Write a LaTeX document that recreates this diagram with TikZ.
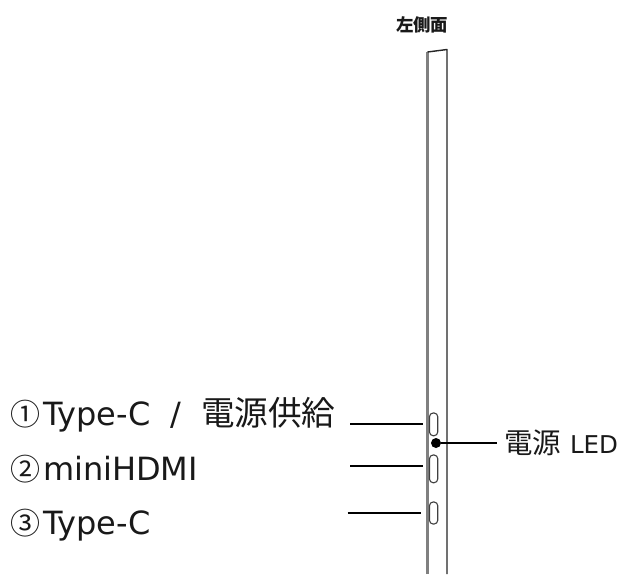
\documentclass[tikz,border=0pt]{standalone}
\usepackage{fontspec}
\setmainfont{DejaVu Sans}
\newfontfamily\cjk{Noto Sans CJK JP}
\newcommand{\lab}{\fontsize{32}{34}\selectfont}
\newcommand{\jp}[1]{{\cjk\fontsize{33.6}{34}\selectfont #1}}
\newcommand{\num}[1]{{\cjk\fontsize{30}{34}\selectfont #1}\hspace{3pt}}
\tikzset{
  labeltext/.style={anchor=base west,inner sep=0pt,outer sep=0pt,text=black!90},
  leader/.style={draw=black,line width=1.7pt},
  slot/.style={draw=black!75,line width=1.1pt,rounded corners=3.6pt,fill=white},
  edgegray/.style={draw=black!50,line width=2.6pt},
  edgeblack/.style={draw=black!85,line width=1.4pt}
}
\begin{document}
\begin{tikzpicture}[x=1pt,y=-1pt]
\useasboundingbox (0,0) rectangle (623,574);
\fill[white] (0,0) rectangle (623,574);
% title
\node[labeltext,font=\cjk\bfseries\fontsize{17.4}{18}\selectfont] (title) at (396,31) {左側面};
% body
\coordinate (tl) at (427.5,52);
\coordinate (tr) at (447,49.5);
\coordinate (bl) at (427.5,574);
\coordinate (br) at (447,574);
\draw[edgegray] (bl) -- (tl);
\draw[edgeblack,line join=round] (tl) -- (tr) -- (br);
% slots
\draw[slot] (429.5,413) rectangle (437.7,435.7);
\draw[slot] (429.5,455) rectangle (437.7,482.7);
\draw[slot] (429.5,502) rectangle (437.7,524);
% labels
\node[labeltext,font=\lab] (l1) at (10,425) {\num{①}Type-C\hspace{20pt}/\hspace{20pt}\jp{電源供給}};
\node[labeltext,font=\lab] (l2) at (10,480) {\num{②}miniHDMI};
\node[labeltext,font=\lab] (l3) at (10,534) {\num{③}Type-C};
\node[labeltext] (led) at (504,453) {{\cjk\fontsize{28.5}{30}\selectfont 電源}\hspace{9pt}{\fontsize{24.5}{30}\selectfont LED}};
% leaders
\coordinate (a1) at (350,423.7); \coordinate (b1) at (423,423.7);
\coordinate (a2) at (350,466);   \coordinate (b2) at (423,466);
\coordinate (a3) at (347.5,512.7); \coordinate (b3) at (421,512.7);
\coordinate (c) at (497,443);
\node[circle,fill=black,inner sep=0pt,minimum size=10pt] (dot) at (436,443) {};
\draw[leader] (a1) -- (b1);
\draw[leader] (a2) -- (b2);
\draw[leader] (a3) -- (b3);
\draw[leader] (dot) -- (c);
\end{tikzpicture}
\end{document}
